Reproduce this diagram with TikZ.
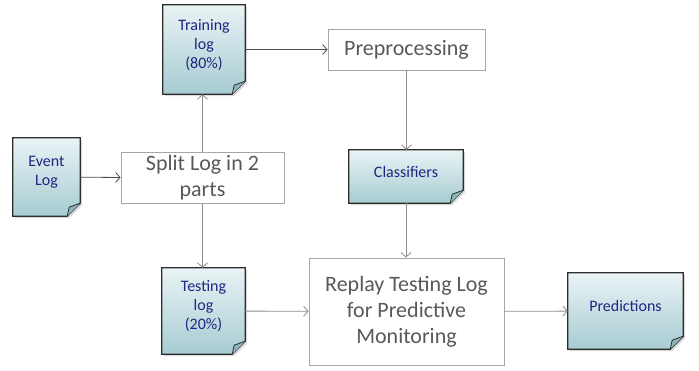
\documentclass[tikz,border=0pt]{standalone}
\usepackage{fontspec}
\setmainfont{Carlito}
\usetikzlibrary{positioning}
\usetikzlibrary{arrows.meta}
\usetikzlibrary{shadows}
\usetikzlibrary{backgrounds}
\usetikzlibrary{calc}

\definecolor{doctop}{RGB}{234,243,245}
\definecolor{docbottom}{RGB}{166,204,210}
\definecolor{docfold}{RGB}{140,180,188}
\definecolor{docedge}{RGB}{45,45,45}
\definecolor{doctext}{RGB}{30,38,130}
\definecolor{boxedge}{RGB}{166,166,166}
\definecolor{boxtext}{RGB}{89,89,89}
\definecolor{flowline}{RGB}{140,140,140}

\tikzset{
	doclabel/.style = {text = doctext, font = \fontsize{16}{19}\selectfont, align = center, inner sep = 0pt},
	doc/.style = {inner sep = 0pt, label = {[doclabel, yshift = 4.5pt]center:#1}},
	docshape/.style = {draw = docedge, line width = 1.2pt, top color = doctop, bottom color = docbottom, drop shadow = {shadow xshift = 2pt, shadow yshift = -2pt, opacity = 0.3}},
	docflap/.style = {draw = docedge, line width = 0.8pt, fill = docfold},
	stage/.style = {draw = boxedge, fill = white, text = boxtext, font = \fontsize{22}{26}\selectfont, align = center, line width = 0.8pt},
	flow/.style = {draw = flowline, line width = 0.8pt, -{Straight Barb[length = 4.5pt, width = 10pt]}}
}

\begin{document}
\begin{tikzpicture}[x = 1pt, y = 1pt]
	\useasboundingbox (0, 0) rectangle (699, 371);
	\node [doc = {Event\\Log}, minimum width = 67pt, minimum height = 78pt] (event) at (46.5, 194) {};
	\node [doc = {Training\\log\\(80\%)}, minimum width = 82pt, minimum height = 89pt] (train) at (204, 321.5) {};
	\node [doc = {Testing\\log\\(20\%)}, minimum width = 83pt, minimum height = 86pt] (test) at (203.5, 60) {};
	\node [doc = {Classifiers}, minimum width = 114pt, minimum height = 53pt] (classif) at (406, 194.5) {};
	\node [doc = {Predictions}, minimum width = 115pt, minimum height = 76pt] (predict) at (625.5, 60) {};
	\node [stage, minimum width = 163pt, minimum height = 50pt] (split) at (202.5, 193) {Split Log in 2\\parts};
	\node [stage, minimum width = 157pt, minimum height = 41pt] (prep) at (406.5, 321.5) {Preprocessing};
	\node [stage, minimum width = 195pt, minimum height = 107pt] (replay) at (406.5, 59.5) {Replay Testing Log\\for Predictive\\Monitoring};

	\begin{scope}[on background layer]
		\foreach \d in {event, train, test, classif, predict} {
			\draw [docshape] (\d.north west) -- (\d.north east) -- ($(\d.south east) + (0, 13)$) -- ($(\d.south east) + (-13, 0)$) -- (\d.south west) -- cycle;
			\draw [docflap] ($(\d.south east) + (0, 13)$) -- ($(\d.south east) + (-11, 9)$) -- ($(\d.south east) + (-13, 0)$);
		}
	\end{scope}

	\draw [flow, draw = docedge!85] (event) -- (split);
	\draw [flow] (split.north) -- (split.north |- train.south);
	\draw [flow, draw = docedge!85] (train) -- (prep);
	\draw [flow] (prep.south) -- (prep.south |- classif.north);
	\draw [flow] (split.south) -- (split.south |- test.north);
	\draw [flow] (classif.south) -- (classif.south |- replay.north);
	\draw [flow] (test) -- (replay);
	\draw [flow] (replay) -- (predict);
\end{tikzpicture}
\end{document}
